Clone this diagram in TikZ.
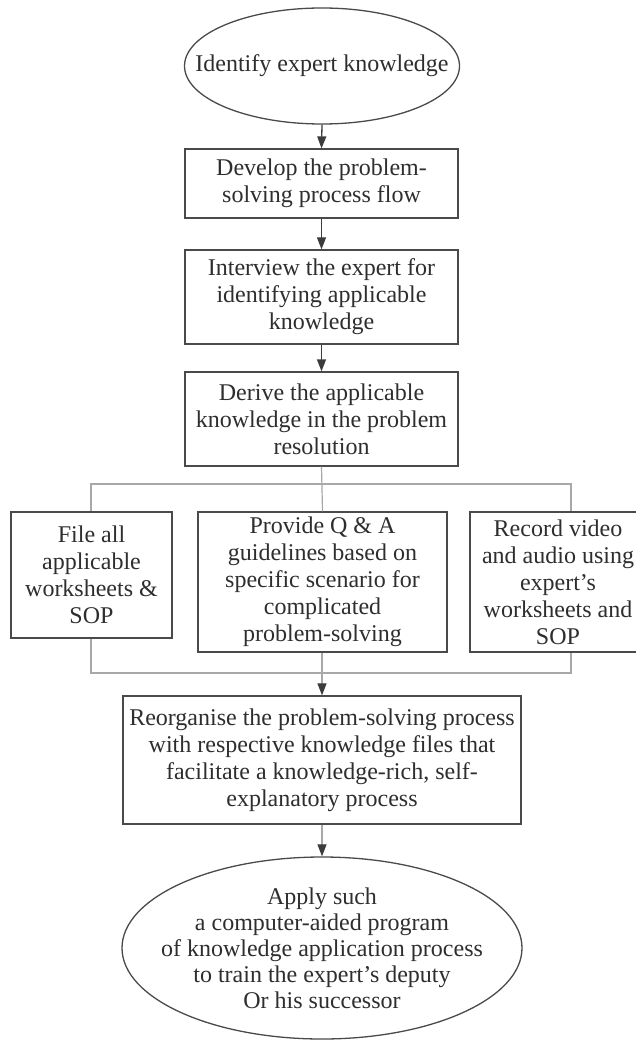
\documentclass[tikz,border=0pt]{standalone}
\usepackage{fontspec}
\setmainfont{Liberation Serif}
\usetikzlibrary{arrows.meta,shapes.geometric}
\definecolor{inkc}{HTML}{2E2E2E}
\definecolor{framec}{HTML}{4A4A4A}
\definecolor{branchc}{HTML}{A8A8A8}
\definecolor{arrowc}{HTML}{3C3C3C}
\tikzset{
  every node/.style={text=inkc, font=\fontsize{24}{27}\selectfont, align=center, inner sep=0pt},
  stepbox/.style={draw=framec, line width=1.3pt, rectangle},
  endcap/.style={draw=framec, line width=1.3pt, ellipse},
  arr/.style={draw=arrowc, line width=1.3pt, -{Triangle[length=12pt,width=9pt,color=arrowc]}},
  grayarr/.style={draw=branchc, line width=1.2pt, -{Triangle[length=12pt,width=9pt,color=arrowc]}},
  branch/.style={draw=branchc, line width=1.2pt},
}
\begin{document}
\begin{tikzpicture}[x=1pt,y=-1pt]
\useasboundingbox[fill=white] (0,0) rectangle (636,1040);

% main chain (ellipses get a fixed size, their labels sit on top)
\node[endcap, minimum width=275pt, minimum height=116pt] (e1) at (322,66) {};
\node (e1t) at (e1.center) {Identify expert knowledge};
\node[stepbox, minimum width=273pt, minimum height=69pt] (b1) at (321.5,183.5) {Develop the problem-\\solving process flow};
\node[stepbox, minimum width=273pt, minimum height=94pt] (b2) at (321.5,297) {Interview the expert for\\identifying applicable\\knowledge};
\node[stepbox, minimum width=273pt, minimum height=94pt] (b3) at (321.5,419) {Derive the applicable\\knowledge in the problem\\resolution};

% three parallel tasks
\node[stepbox, minimum width=161pt, minimum height=126pt] (s1) at (91.5,575) {File all\\applicable\\worksheets \&\\SOP};
\node[stepbox, minimum width=249pt, minimum height=140pt] (s2) at (322.5,582) {Provide Q \& A\\guidelines based on\\specific scenario for\\complicated\\problem-solving};
\node[stepbox, minimum width=176pt, minimum height=140pt] (s3) at (558,582) {Record video\\and audio using\\expert’s\\worksheets and\\SOP};

% merge and final steps
\node[stepbox, minimum width=398pt, minimum height=128pt] (b4) at (322,760) {Reorganise the problem-solving process\\with respective knowledge files that\\facilitate a knowledge-rich, self-\\explanatory process};
\node[endcap, minimum width=400pt, minimum height=182pt] (e2) at (322,948) {};
\node[font=\fontsize{24}{26}\selectfont] (e2t) at (e2.center) {Apply such\\a computer-aided program\\of knowledge application process\\to train the expert’s deputy\\Or his successor};

% junction points of the branch lines
\coordinate (jl) at (91,484);
\coordinate (jr) at (571,484);
\coordinate (kl) at (91,673);
\coordinate (kr) at (571,673);

\draw[arr] (e1.south) -- (b1.north);
\draw[arr] (b1.south) -- (b2.north);
\draw[arr] (b2.south) -- (b3.north);

\draw[branch] (b3.south) -- (s2.north);
\draw[branch] (jl |- s1.north) -- (jl) -- (jr) -- (jr |- s3.north);

\draw[branch] (kl |- s1.south) -- (kl) -- (kr) -- (kr |- s3.south);
\draw[grayarr] (s2.south -| b4.north) -- (b4.north);
\draw[grayarr] (b4.south) -- (e2.north);
\end{tikzpicture}
\end{document}
